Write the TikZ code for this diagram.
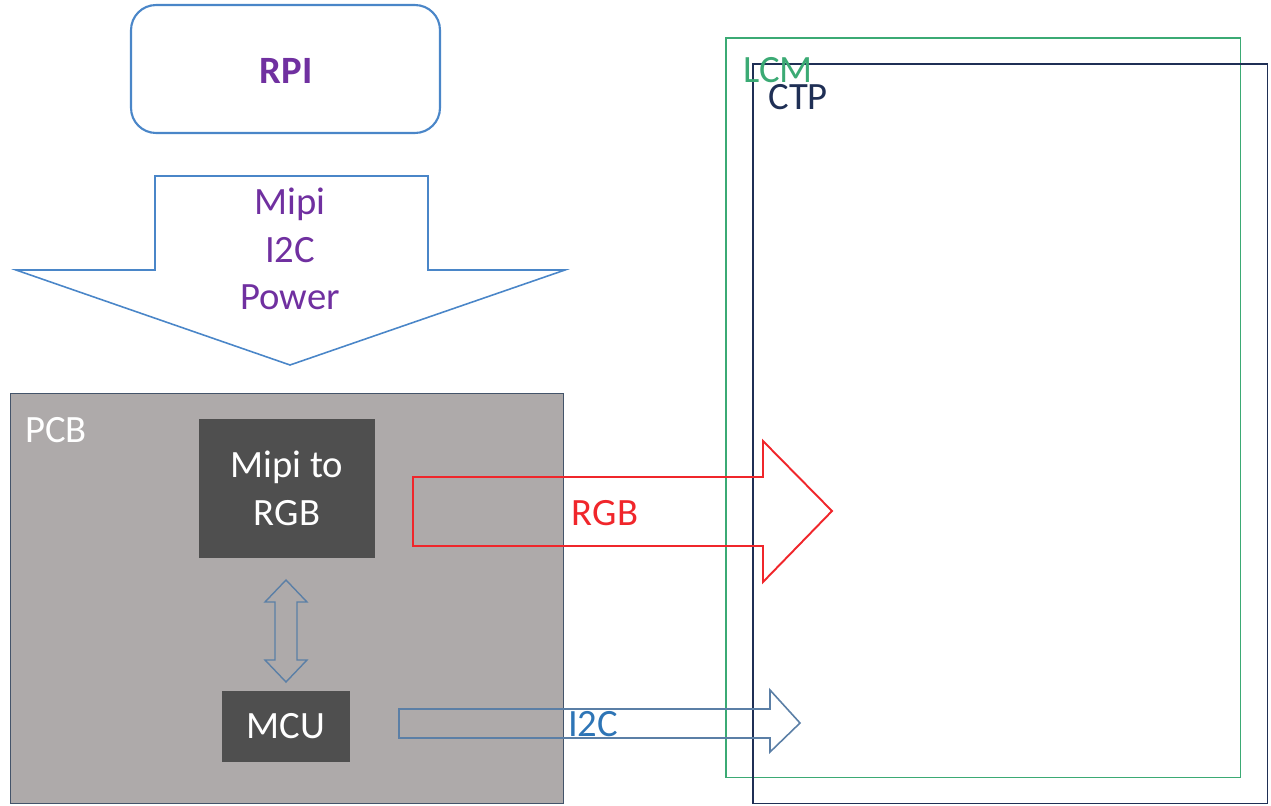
\documentclass[tikz,border=0pt]{standalone}
\usepackage{fontspec}
\setmainfont{Carlito}
\definecolor{rpiblue}{HTML}{4A86C8}
\definecolor{rpipurple}{HTML}{7030A0}
\definecolor{pcbgray}{HTML}{AEAAAA}
\definecolor{pcbedge}{HTML}{44546A}
\definecolor{chipgray}{HTML}{4F4F4F}
\definecolor{linkblue}{HTML}{5B7FA6}
\definecolor{i2cblue}{HTML}{2E75B6}
\definecolor{lcmgreen}{HTML}{3BAA74}
\definecolor{ctpnavy}{HTML}{1F2F55}
\definecolor{rgbred}{HTML}{F0262B}
\begin{document}
\begin{tikzpicture}[x=0.02cm, y=-0.02cm,
    every node/.style={font=\fontsize{22}{27}\selectfont, align=center, inner sep=0pt},
    chip/.style={fill=chipgray, text=white},
    panel/.style={draw, line width=0.9pt, anchor=north west}]
  \useasboundingbox (0,0) rectangle (1271,805);

  % Pantallas (LCM y CTP)
  \node[panel, lcmgreen, minimum width=10.3cm, minimum height=14.8cm] (lcm) at (725,37) {};
  \node[panel, ctpnavy, minimum width=10.3cm, minimum height=14.8cm] (ctp) at (752,63) {};
  \node[lcmgreen, anchor=west] (lcmlabel) at (743,70) {LCM};
  \node[ctpnavy, anchor=west] (ctplabel) at (768,97) {CTP};

  % Raspberry Pi
  \node[draw=rpiblue, line width=1.2pt, rounded corners=0.5cm,
        minimum width=6.18cm, minimum height=2.56cm] (rpibox) at (285.5,69) {};
  \node[rpipurple, font=\fontsize{22}{26}\selectfont\bfseries] (rpi) at (286,71) {RPI};

  % Flecha grande hacia la PCB
  \draw[rpiblue, line width=0.9pt] (155,176) -- (428,176) -- (428,270) -- (565,270)
        -- (290,365) -- (16,270) -- (155,270) -- cycle;
  \node[rpipurple] (bus) at (290,249) {Mipi\\I2C\\Power};

  % PCB
  \node[draw=pcbedge, fill=pcbgray, line width=0.8pt, anchor=north west,
        minimum width=11.06cm, minimum height=8.2cm] (pcb) at (10,393) {};
  \node[white] (pcblabel) at (56,430) {PCB};
  \node[chip, minimum width=3.52cm, minimum height=2.78cm] (bridge) at (287,488.5) {Mipi to\\RGB};
  \node[chip, minimum width=2.56cm, minimum height=1.42cm] (mcu) at (286,726.5) {MCU};

  % Enlace bridge <-> MCU
  \draw[linkblue, line width=0.8pt] (286,580) -- (307,602) -- (297,602) -- (297,660)
        -- (307,660) -- (286,682) -- (265,660) -- (275,660) -- (275,602) -- (265,602) -- cycle;

  % Salida RGB
  \draw[rgbred, line width=1.1pt] (413,477) -- (763,477) -- (763,441) -- (832,511)
        -- (763,582) -- (763,546) -- (413,546) -- cycle;
  \node[rgbred] (rgb) at (605,513) {RGB};

  % Salida I2C
  \draw[linkblue, line width=0.9pt] (399,709) -- (770,709) -- (770,690) -- (800,723)
        -- (770,752) -- (770,738) -- (399,738) -- cycle;
  \node[i2cblue] (i2c) at (593,724) {I2C};
\end{tikzpicture}
\end{document}
